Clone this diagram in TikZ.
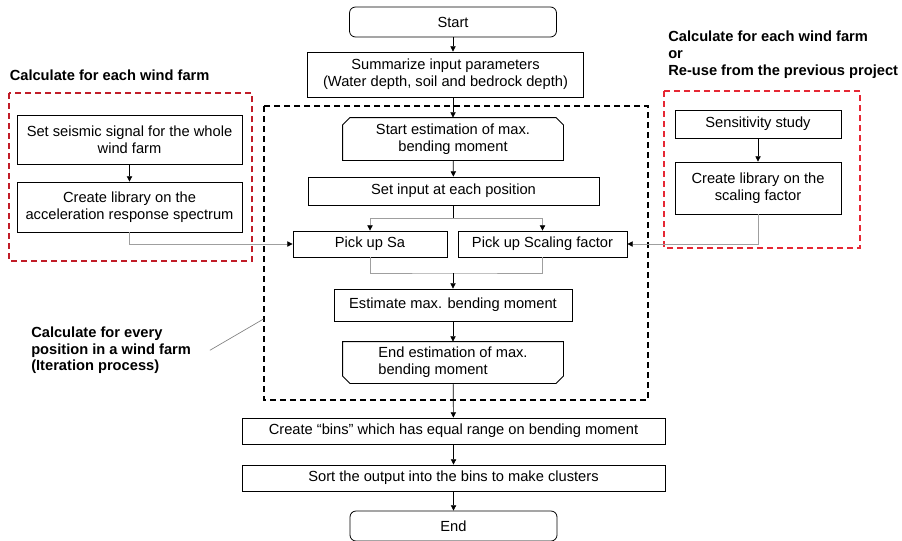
\documentclass[tikz,border=0pt]{standalone}
\usepackage{fontspec}
\setmainfont{Liberation Sans}
\usetikzlibrary{arrows.meta,positioning,calc}

\definecolor{darkred}{RGB}{192,28,40}
\definecolor{lightred}{RGB}{230,40,52}

\tikzset{
  box/.style={draw, line width=.6pt, align=center, inner sep=0pt,
    font=\fontsize{11}{12.5}\selectfont},
  sz/.style 2 args={minimum width=#1*.75pt, minimum height=#2*.75pt},
  term/.style={box, rounded corners=4.5pt},
  loopbox/.style={box, draw=none},
  edge/.style={line width=.6pt},
  arr/.style={-{Triangle[length=4pt,width=4pt]}, line width=.5pt},
  garr/.style={gray!75, line width=.6pt, -{Triangle[length=4pt,width=4pt,color=black]}},
  gline/.style={gray!75, line width=.6pt},
  frame/.style={dash pattern=on 4.5pt off 3pt, line width=1.1pt},
  title/.style={font=\bfseries\fontsize{11}{12.5}\selectfont, align=left, inner sep=0pt}
}

\begin{document}
\begin{tikzpicture}[x=.75pt,y=-.75pt]
  \useasboundingbox (0,0) rectangle (902,540);

  % main column
  \node[term,sz={207}{30}] (start) at (453,22) {Start};
  \node[box,sz={276}{45}] (summ) at (445.5,74.5) {Summarize input parameters\\(Water depth, soil and bedrock depth)};
  \node[loopbox,sz={220}{42}] (sest) at (453,139) {Start estimation of max.\\bending moment};
  \node[box,sz={291}{28}] (setin) at (453.5,191) {Set input at each position};
  \node[box,sz={154}{26}] (picksa) at (370,244) {Pick up Sa};
  \node[box,sz={169}{26}] (pickfs) at (542.5,244) {Pick up Scaling factor};
  \node[box,sz={238}{32}] (est) at (453,305) {Estimate max. bending moment};
  \node[loopbox,sz={220}{41},align=left] (eest) at (453,362.5) {End estimation of max.\\bending moment};
  \node[box,sz={423}{26}] (bins) at (453.5,431) {Create “bins” which has equal range on bending moment};
  \node[box,sz={423}{26}] (sort) at (453.5,478) {Sort the output into the bins to make clusters};
  \node[term,sz={207}{30}] (end) at (453.5,526) {End};

  % loop limits with cut corners
  \draw[edge] ([yshift=-5.5pt]sest.north west) -- ([xshift=5.5pt]sest.north west)
    -- ([xshift=-5.5pt]sest.north east) -- ([yshift=-5.5pt]sest.north east)
    |- (sest.south west) -- cycle;
  \draw[edge] ([yshift=5.5pt]eest.south west) -- ([xshift=5.5pt]eest.south west)
    -- ([xshift=-5.5pt]eest.south east) -- ([yshift=5.5pt]eest.south east)
    |- (eest.north west) -- cycle;

  % side libraries
  \node[box,sz={225}{49}] (seis) at (129.5,139.5) {Set seismic signal for the whole\\wind farm};
  \node[box,sz={225}{50}] (lib1) at (129.5,207) {Create library on the\\acceleration response spectrum};
  \node[box,sz={166}{28}] (sens) at (758,124) {Sensitivity study};
  \node[box,sz={166}{52}] (lib2) at (758,188) {Create library on the\\scaling factor};

  % frames and titles
  \draw[frame] (264,106) rectangle (648,400);
  \draw[frame,darkred] (9,93) rectangle (252,261);
  \draw[frame,lightred] (664,91) rectangle (860,248);
  \node[title,anchor=west] (ttl1) at (9.5,75) {Calculate for each wind farm};
  \node[title,anchor=north west] (ttl2) at (668,31) {Calculate for each wind farm\\or\\Re-use from the previous project};
  \node[title,anchor=north west] (iter) at (31,326.5) {Calculate for every\\position in a wind farm\\(Iteration process)};
  \coordinate (side) at (263.5,319);
  \draw[gray, line width=.5pt] ([xshift=14pt]iter.east) -- (side);

  % connectors
  \draw[arr] (start) -- (start |- summ.north);
  \draw[arr] (start |- summ.south) -- (sest);
  \foreach \a/\b in {sest/setin, est/eest, eest/bins, bins/sort, sort/end, seis/lib1, sens/lib2}
    \draw[arr] (\a) -- (\b);
  \coordinate (split) at (453,218);
  \coordinate (merge) at (453,273);
  \draw[line width=.5pt] (setin.south -| split) -- (split);
  \draw[garr] (split) -| (picksa);
  \draw[garr] (split) -| (pickfs);
  \draw[gline] (picksa) |- (merge) -| (pickfs);
  \draw[arr] (merge) -- (est);
  \draw[garr] (lib1) |- (picksa);
  \draw[garr] (lib2) |- (pickfs);
\end{tikzpicture}
\end{document}
